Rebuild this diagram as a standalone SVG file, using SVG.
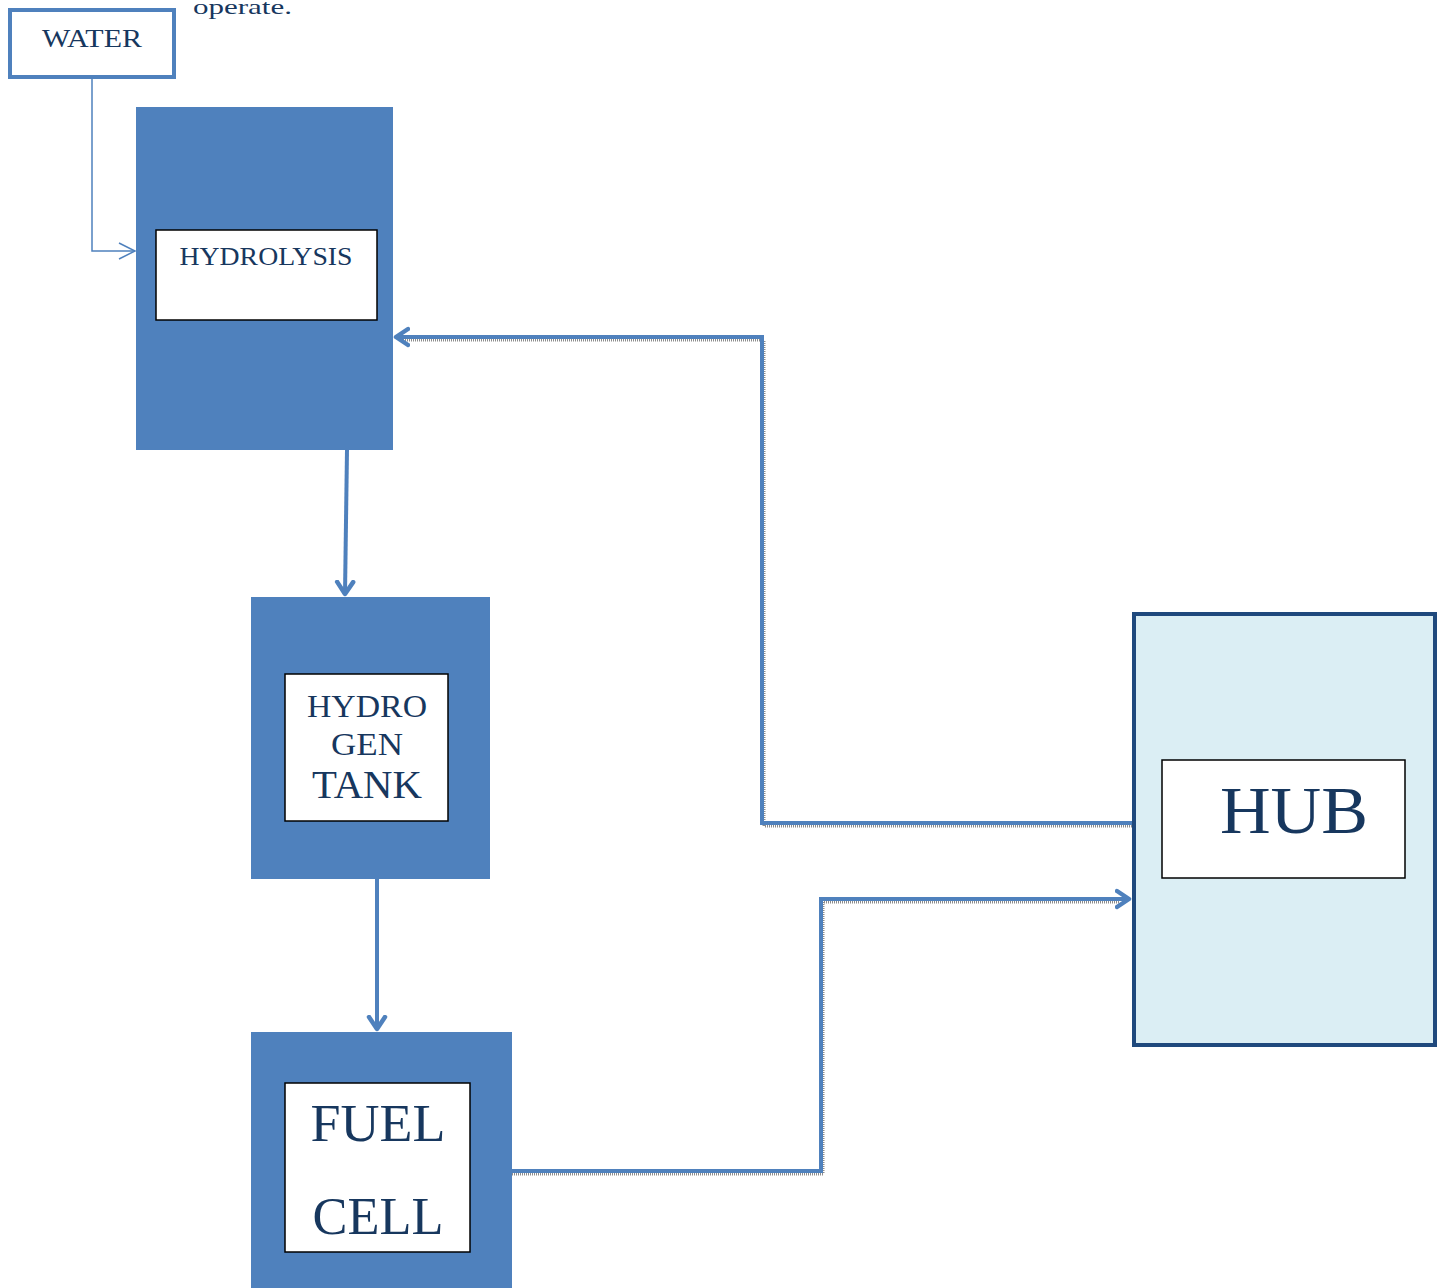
<svg xmlns="http://www.w3.org/2000/svg" width="1443" height="1288" viewBox="0 0 1443 1288">
<style>
.lbl{font-family:"Liberation Serif","DejaVu Serif",serif;fill:#17375e;text-anchor:middle}
.blk{fill:#4f81bd}
.inner{fill:#ffffff;stroke:#000000;stroke-width:1.5}
.conn{fill:none;stroke:#4f81bd;stroke-width:4}
.shadow{fill:none;stroke:#8c8c8c;stroke-width:3;stroke-dasharray:1 1}
.thin{fill:none;stroke:#4f81bd;stroke-width:1.5}
</style>
<defs>
<marker id="ah" markerUnits="userSpaceOnUse" markerWidth="30" markerHeight="30" refX="14" refY="10" orient="auto" viewBox="0 0 30 20">
<path d="M2,2 L14,10 L2,18" fill="none" stroke="#4f81bd" stroke-width="4.5" stroke-linecap="round" stroke-linejoin="round"/>
</marker>
<marker id="ahthin" markerUnits="userSpaceOnUse" markerWidth="24" markerHeight="24" refX="18" refY="10" orient="auto" viewBox="0 0 24 20">
<path d="M2,2 L18,10 L2,18" fill="none" stroke="#4f81bd" stroke-width="1.5"/>
</marker>
</defs>
<text x="193" y="14" font-family="Liberation Serif, serif" font-size="22" fill="#17375e" textLength="99" lengthAdjust="spacingAndGlyphs">operate.</text>
<g id="connectors">
<path class="thin" d="M92,78 V251 H135" marker-end="url(#ahthin)"/>
<path class="conn" d="M347,450 L345,594" marker-end="url(#ah)"/>
<path class="conn" d="M377,879 V1029" marker-end="url(#ah)"/>
<path class="shadow" d="M1132,826 H764 V340 H400"/>
<path class="conn" d="M1132,823 H762 V337 H396" marker-end="url(#ah)"/>
<path class="shadow" d="M512,1174 H823 V902 H1120"/>
<path class="conn" d="M512,1171 H821 V899 H1129" marker-end="url(#ah)"/>
</g>
<g id="water">
<rect x="10" y="10" width="164" height="67" fill="#ffffff" stroke="#4f81bd" stroke-width="4"/>
<text class="lbl" x="92" y="47" font-size="26" textLength="100" lengthAdjust="spacingAndGlyphs">WATER</text>
</g>
<g id="hydrolysis">
<rect class="blk" x="136" y="107" width="257" height="343"/>
<rect class="inner" x="156" y="230" width="221" height="90"/>
<text class="lbl" x="266" y="265" font-size="25" textLength="173" lengthAdjust="spacingAndGlyphs">HYDROLYSIS</text>
</g>
<g id="hydrogen-tank">
<rect class="blk" x="251" y="597" width="239" height="282"/>
<rect class="inner" x="285" y="674" width="163" height="147"/>
<text class="lbl" x="367" y="717" font-size="32" textLength="120" lengthAdjust="spacingAndGlyphs">HYDRO</text>
<text class="lbl" x="367" y="755" font-size="32" textLength="72" lengthAdjust="spacingAndGlyphs">GEN</text>
<text class="lbl" x="367" y="798" font-size="40" textLength="110" lengthAdjust="spacingAndGlyphs">TANK</text>
</g>
<g id="fuel-cell">
<rect class="blk" x="251" y="1032" width="261" height="256"/>
<rect class="inner" x="285" y="1083" width="185" height="169"/>
<text class="lbl" x="378" y="1141" font-size="52" textLength="135" lengthAdjust="spacingAndGlyphs">FUEL</text>
<text class="lbl" x="378" y="1234" font-size="52" textLength="131" lengthAdjust="spacingAndGlyphs">CELL</text>
</g>
<g id="hub">
<rect x="1134" y="614" width="301" height="431" fill="#dbeef4" stroke="#1f497d" stroke-width="4"/>
<rect class="inner" x="1162" y="760" width="243" height="118"/>
<text class="lbl" x="1294" y="833" font-size="68" textLength="148" lengthAdjust="spacingAndGlyphs">HUB</text>
</g>
</svg>
